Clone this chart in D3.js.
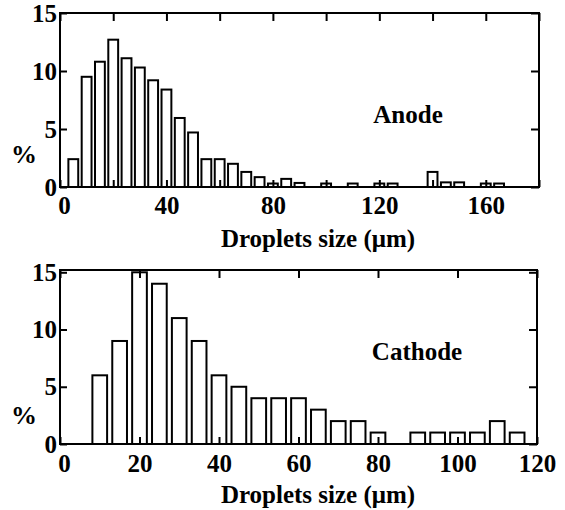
<!DOCTYPE html>
<html>
<head>
<meta charset="utf-8">
<script src="https://cdn.jsdelivr.net/npm/d3@7"></script>
<style>
  body { margin: 0; background: #fff; }
  svg text { font-family: "Liberation Serif", "Times New Roman", serif; font-weight: bold; fill: #000; }
  .tick text { font-size: 25px; }
  .axis path { display: none; }
  .axis line { stroke: #000; stroke-width: 2; }
</style>
</head>
<body>
<svg id="chart" width="565" height="510"></svg>
<script>
// anode: bin centre (um) and percentage
var anodeSizes = [5, 10, 15, 20, 25, 30, 35, 40, 45, 50, 55, 60, 65, 70, 75, 80, 85, 90, 100, 110, 120, 125, 140, 145, 150, 160, 165];
var anodePct   = [2.4, 9.5, 10.8, 12.7, 11.1, 10.3, 9.2, 8.4, 5.95, 4.7, 2.4, 2.4, 2.0, 1.3, 0.85, 0.3, 0.7, 0.35, 0.3, 0.3, 0.3, 0.3, 1.3, 0.4, 0.4, 0.3, 0.3];

// cathode
var cathodeSizes = [10, 15, 20, 25, 30, 35, 40, 45, 50, 55, 60, 65, 70, 75, 80, 90, 95, 100, 105, 110, 115];
var cathodePct   = [6, 9, 15, 14, 11, 9, 6, 5, 4, 4, 4, 3, 2, 2, 1, 1, 1, 1, 1, 2, 1];

var anodeXTicks = [0, 20, 40, 60, 80, 100, 120, 140, 160, 180];
var anodeXLabels = [0, 40, 80, 120, 160];
var cathodeXTicks = [0, 20, 40, 60, 80, 100, 120];
var yTicks = [0, 5, 10, 15];

var svg = d3.select("#chart");

function panel(opt) {
	var x = d3.scaleLinear().domain(opt.xDomain).range([60, opt.right]);
	var y = d3.scaleLinear().domain(opt.yDomain).range([opt.bottom, opt.top]);
	var g = svg.append("g");
	var binW = x(5 * 0.74) - x(0);

	// bars
	g.selectAll("rect.bar")
		.data(opt.sizes)
		.enter().append("rect")
		.attr("class", "bar")
		.attr("x", function(d) { return x(d) - binW / 2; })
		.attr("width", binW)
		.attr("y", function(d, i) { return y(opt.values[i]); })
		.attr("height", function(d, i) { return y(0) - y(opt.values[i]); })
		.attr("fill", "#fff")
		.attr("stroke", "#000")
		.attr("stroke-width", 2);

	// bottom axis, ticks pointing in
	var xAxis = g.append("g")
		.attr("class", "axis")
		.attr("transform", "translate(0," + y(0) + ")")
		.call(d3.axisBottom(x).tickValues(opt.xTicks).tickSizeInner(-7).tickSizeOuter(0).tickPadding(opt.xPad)
			.tickFormat(function(d) { return opt.xLabels.indexOf(d) !== -1 ? d : ""; }));
	// the zero label sits a little right of the corner, clear of the y "0"
	xAxis.selectAll(".tick text").filter(function(d) { return d === 0; }).attr("dx", 4);

	// top axis
	g.append("g")
		.attr("class", "axis")
		.attr("transform", "translate(0," + opt.top + ")")
		.call(d3.axisTop(x).tickValues(opt.xTicks).tickSizeInner(-8).tickSizeOuter(0).tickFormat(""));
	// left axis
	g.append("g")
		.attr("class", "axis")
		.attr("transform", "translate(60,0)")
		.call(d3.axisLeft(y).tickValues(yTicks).tickSizeInner(-7).tickSizeOuter(0).tickPadding(3).tickFormat(d3.format("d")));
	// right axis
	g.append("g")
		.attr("class", "axis")
		.attr("transform", "translate(" + opt.right + ",0)")
		.call(d3.axisRight(y).tickValues(yTicks).tickSizeInner(-8).tickSizeOuter(0).tickFormat(""));

	// frame
	g.append("rect")
		.attr("x", 60)
		.attr("y", opt.top)
		.attr("width", opt.right - 60)
		.attr("height", opt.bottom - opt.top)
		.attr("fill", "none")
		.attr("stroke", "#000")
		.attr("stroke-width", 2);

	g.append("text")
		.attr("x", 24)
		.attr("y", opt.pctY)
		.attr("text-anchor", "middle")
		.style("font-size", "26px")
		.text("%");

	g.append("text")
		.attr("x", opt.nameX)
		.attr("y", opt.nameY)
		.attr("text-anchor", "middle")
		.style("font-size", "25px")
		.text(opt.name);

	g.append("text")
		.attr("x", 318)
		.attr("y", opt.titleY)
		.attr("text-anchor", "middle")
		.style("font-size", "25px")
		.text("Droplets size (\u03bcm)");
}

panel({
	sizes: anodeSizes, values: anodePct,
	xDomain: [0, 180], yDomain: [0, 15],
	right: 539, top: 13, bottom: 187,
	xTicks: anodeXTicks, xLabels: anodeXLabels, xPad: 9,
	name: "Anode", nameX: 408, nameY: 123,
	pctY: 163, titleY: 247
});

panel({
	sizes: cathodeSizes, values: cathodePct,
	xDomain: [0, 120], yDomain: [0, 15.2],
	right: 537, top: 270, bottom: 444,
	xTicks: cathodeXTicks, xLabels: cathodeXTicks, xPad: 10,
	name: "Cathode", nameX: 417, nameY: 360,
	pctY: 424, titleY: 503
});
</script>
</body>
</html>
